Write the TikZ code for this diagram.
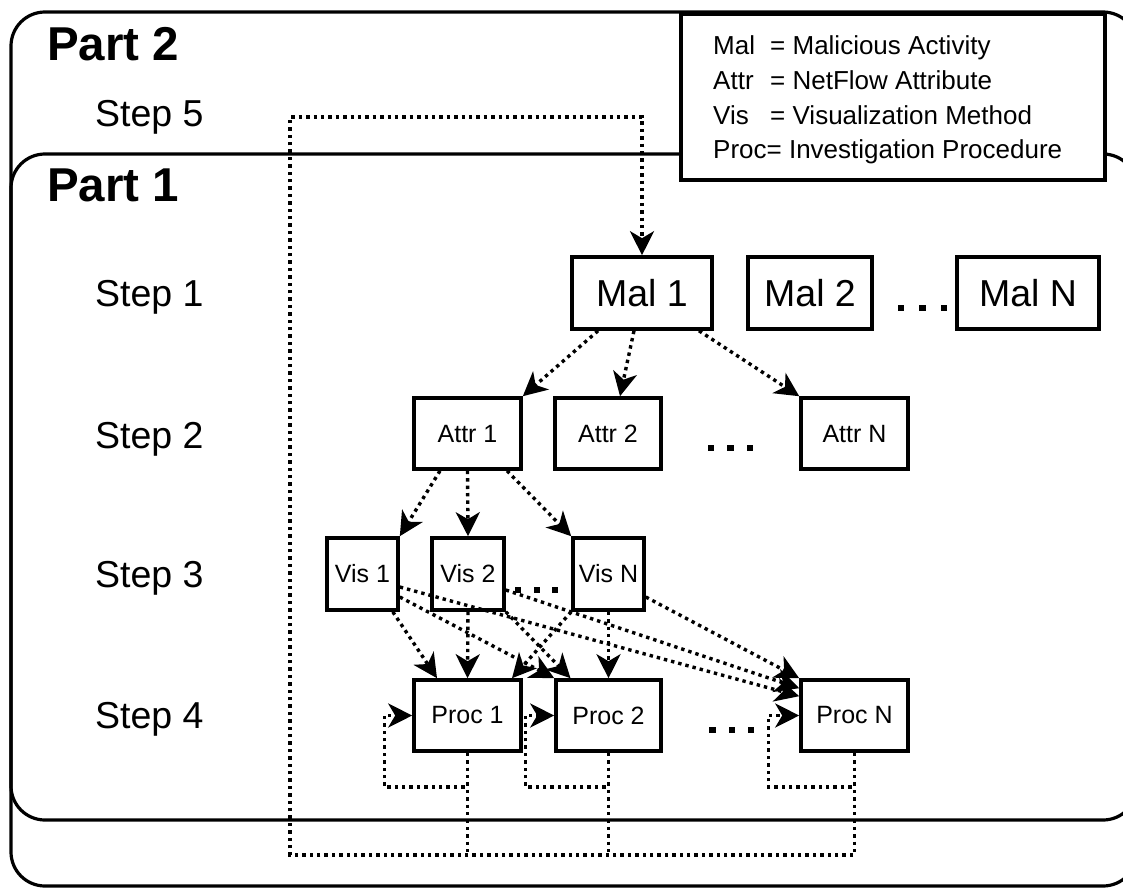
\documentclass[tikz,border=0pt]{standalone}
\usepackage{fontspec}
\setmainfont{Liberation Sans}
\usetikzlibrary{arrows.meta,calc}

\begin{document}
\begin{tikzpicture}[x=1pt,y=-1pt,
  part/.style={line width=3.2pt, rounded corners=34pt},
  box/.style={draw, line width=3.6pt, inner sep=0pt, minimum height=71pt,
              font=\fontsize{25}{30}\selectfont},
  bigbox/.style={box, minimum height=72pt, font=\fontsize{37.5}{45}\selectfont},
  link/.style={line width=3.4pt, dash pattern=on 3.4pt off 4pt},
  flow/.style={link, -{Stealth[length=24pt,width=24pt,inset=7pt]}},
  steplabel/.style={anchor=base west, inner sep=0pt, font=\fontsize{37.5}{45}\selectfont},
  partlabel/.style={anchor=base west, inner sep=0pt, font=\fontsize{47.5}{55}\bfseries\selectfont},
  legtext/.style={anchor=base west, inner sep=0pt, font=\fontsize{26}{30}\selectfont},
  ellip/.style={fill=black}
]
\useasboundingbox (0,0) rectangle (1123,888);
\fill[white] (0,0) rectangle (1123,888);
\clip (0,0) rectangle (1123,888);

% the two nested parts
\draw[part] (11,12) rectangle (1137,886);
\draw[part] (11,154) rectangle (1137,820);

% legend
\node[draw, line width=3.6pt, fill=white, inner sep=0pt, anchor=north west,
      minimum width=424pt, minimum height=166pt] (legend) at (679,12) {};
\node[legtext] (lgMal)  at (713,54.5)  {Mal};
\node[legtext] (lgMalD) at (770,54.5)  {= Malicious Activity};
\node[legtext] (lgAttr) at (713,89.5)  {Attr};
\node[legtext] (lgAttrD) at (770,89.5) {= NetFlow Attribute};
\node[legtext] (lgVis)  at (713,124.5) {Vis};
\node[legtext] (lgVisD) at (770,124.5) {= Visualization Method};
\node[legtext] (lgProc) at (713,158.5) {Proc= Investigation Procedure};

% part and step titles
\node[partlabel] (part2) at (47,61)  {Part 2};
\node[partlabel] (part1) at (47,201) {Part 1};
\node[steplabel] (step5) at (95,127)   {Step 5};
\node[steplabel] (step1) at (95,306.5) {Step 1};
\node[steplabel] (step2) at (95,448.5) {Step 2};
\node[steplabel] (step3) at (95,587.5) {Step 3};
\node[steplabel] (step4) at (95,728.5) {Step 4};

% step 1: malicious activities
\node[bigbox, minimum width=140pt] (mal1) at (642,293)  {Mal 1};
\node[bigbox, minimum width=124pt] (mal2) at (810,293)  {Mal 2};
\node[bigbox, minimum width=142pt] (malN) at (1028,293) {Mal N};

% step 2: netflow attributes
\node[box, minimum width=107pt] (attr1) at (467.5,433.5) {Attr 1};
\node[box, minimum width=106pt] (attr2) at (608,433.5)   {Attr 2};
\node[box, minimum width=107pt] (attrN) at (854.5,433.5) {Attr N};

% step 3: visualization methods
\node[box, minimum width=71pt, minimum height=72pt] (vis1) at (362.5,574) {Vis 1};
\node[box, minimum width=72pt, minimum height=72pt] (vis2) at (468,574)   {Vis 2};
\node[box, minimum width=71pt, minimum height=72pt] (visN) at (608.5,574) {Vis N};

% step 4: investigation procedures
\node[box, minimum width=107pt] (proc1) at (467.5,715.5) {Proc 1};
\node[box, minimum width=105pt] (proc2) at (608.5,715.5) {Proc 2};
\node[box, minimum width=107pt] (procN) at (854.5,715.5) {Proc N};

% ellipses between the boxes
\foreach \x/\y/\s in {901/308/3.4, 922.5/308/3.4, 944/308/3.4,
                      711/448/3.1, 730.5/448/3.1, 750/448/3.1,
                      518/590/3.1, 537/590/3.1, 555/590/3.1,
                      712.5/730/3.1, 732/730/3.1, 751/730/3.1}
  \fill[ellip] (\x-\s,\y-\s) rectangle (\x+\s,\y+\s);

% step 1 -> step 2
\draw[flow] ($(mal1.south)+(-44,0)$) -- (attr1.north east);
\draw[flow] ($(mal1.south)+(-8,0)$)  -- ($(attr2.north)+(12,0)$);
\draw[flow] ($(mal1.south)+(57,0)$)  -- (attrN.north west);

% step 2 -> step 3
\draw[flow] ($(attr1.south)+(-27.5,0)$) -- (vis1.north east);
\draw[flow] (attr1.south) -- (vis2.north);
\draw[flow] ($(attr1.south)+(39.5,0)$)  -- (visN.north west);

% step 3 -> step 4
\draw[flow] ($(vis1.south east)+(-7,0)$) -- ($(proc1.north)+(-30.5,0)$);
\draw[flow] (vis2.south) -- (proc1.north);
\draw[flow] (visN.south west) -- ($(proc1.north)+(44.5,0)$);
\draw[flow] ($(vis1.east)+(0,23)$) -- (proc2.north west);
\draw[flow] (vis2.south east) -- ($(proc2.north)+(-38,0)$);
\draw[flow] (visN.south) -- (proc2.north);
\draw[flow] ($(vis1.east)+(0,13)$) -- ($(procN.north west)+(0,18)$);
\draw[flow] ($(vis2.east)+(0,16)$) -- ($(procN.north west)+(0,10)$);
\draw[flow] ($(visN.east)+(0,23)$) -- (procN.north west);

% procedures repeated on their own output
\draw[flow] (proc1.south) -- ++(0,34) -| ($(proc1.west)+(-28,0)$) -- (proc1.west);
\draw[flow] (proc2.south) -- ++(0,34) -| ($(proc2.west)+(-29,0)$) -- (proc2.west);
\draw[flow] (procN.south) -- ++(0,34) -| ($(procN.west)+(-31,0)$) -- (procN.west);

% step 5: results fed back to the next malicious activity
\coordinate (fbBL) at (290,855);
\coordinate (fbTL) at (290,117);
\draw[flow] (procN.south) |- (fbBL) -- (fbTL) -| (mal1.north);
\draw[link] (proc1.south) -- (proc1.south |- fbBL);
\draw[link] (proc2.south) -- (proc2.south |- fbBL);
\end{tikzpicture}
\end{document}
